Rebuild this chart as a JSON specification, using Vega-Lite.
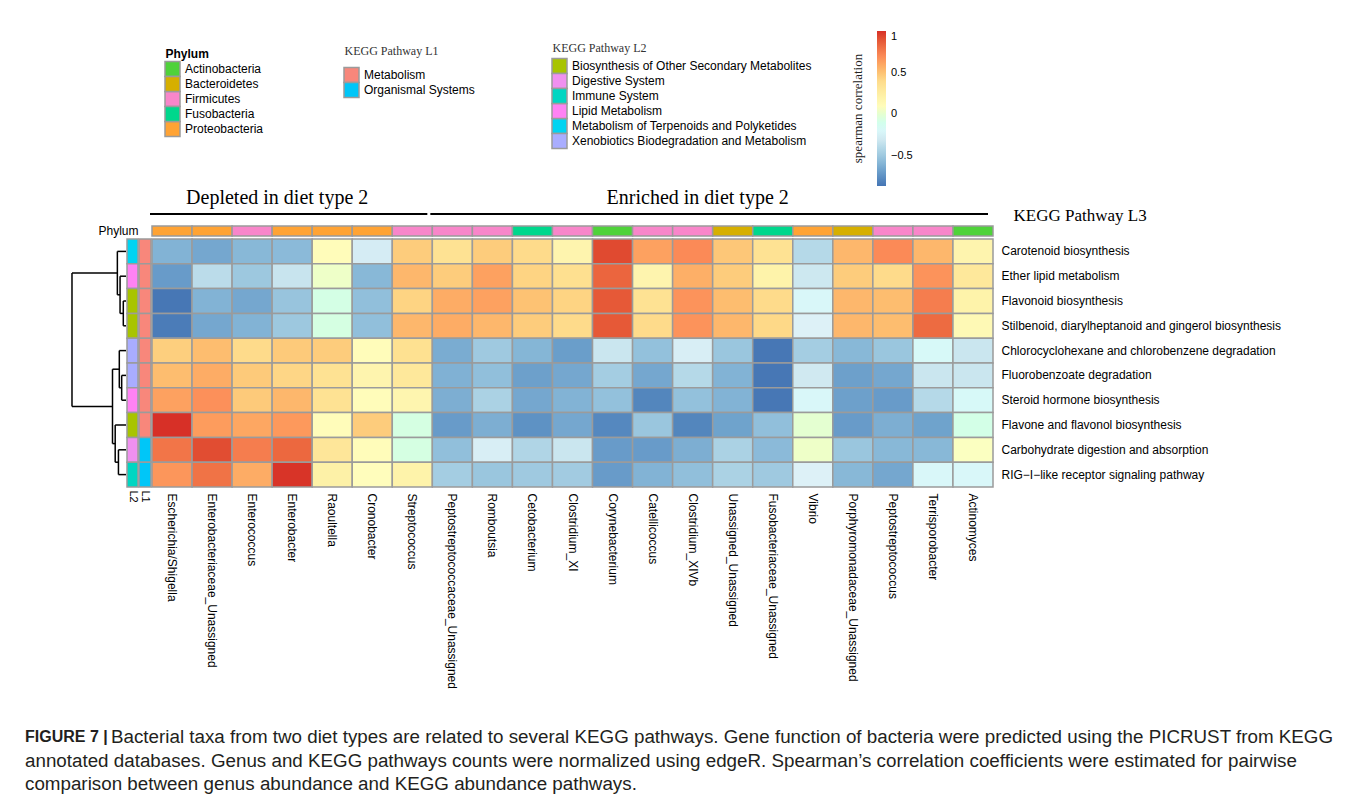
{
  "$schema": "https://vega.github.io/schema/vega-lite/v6.json",
  "background": "white",
  "padding": {"left": 25, "top": 20, "right": 10, "bottom": 5},
  "columns": 4,
  "bounds": "flush",
  "align": "each",
  "spacing": {"row": 0, "column": 1},
  "resolve": {"scale": {"color": "independent"}, "legend": {"color": "independent"}},
  "config": {
    "view": {"stroke": null},
    "font": "Liberation Sans",
    "axis": {"labelColor": "black", "labelFont": "Liberation Sans", "grid": false},
    "legend": {"labelColor": "black", "labelFont": "Liberation Sans", "labelFontSize": 12, "padding": 0, "labelLimit": 400}
  },
  "datasets": {
    "taxa": [
      {"genus": "Escherichia/Shigella", "phylum": "Proteobacteria"},
      {"genus": "Enterobacteriaceae_Unassigned", "phylum": "Proteobacteria"},
      {"genus": "Enterococcus", "phylum": "Firmicutes"},
      {"genus": "Enterobacter", "phylum": "Proteobacteria"},
      {"genus": "Raoultella", "phylum": "Proteobacteria"},
      {"genus": "Cronobacter", "phylum": "Proteobacteria"},
      {"genus": "Streptococcus", "phylum": "Firmicutes"},
      {"genus": "Peptostreptococcaceae_Unassigned", "phylum": "Firmicutes"},
      {"genus": "Romboutsia", "phylum": "Firmicutes"},
      {"genus": "Cetobacterium", "phylum": "Fusobacteria"},
      {"genus": "Clostridium_XI", "phylum": "Firmicutes"},
      {"genus": "Corynebacterium", "phylum": "Actinobacteria"},
      {"genus": "Catellicoccus", "phylum": "Firmicutes"},
      {"genus": "Clostridium_XIVb", "phylum": "Firmicutes"},
      {"genus": "Unassigned_Unassigned", "phylum": "Bacteroidetes"},
      {"genus": "Fusobacteriaceae_Unassigned", "phylum": "Fusobacteria"},
      {"genus": "Vibrio", "phylum": "Proteobacteria"},
      {"genus": "Porphyromonadaceae_Unassigned", "phylum": "Bacteroidetes"},
      {"genus": "Peptostreptococcus", "phylum": "Firmicutes"},
      {"genus": "Terrisporobacter", "phylum": "Firmicutes"},
      {"genus": "Actinomyces", "phylum": "Actinobacteria"}
    ],
    "pathways": [
      {"pathway": "Carotenoid biosynthesis", "L1": "Metabolism", "L2": "Metabolism of Terpenoids and Polyketides"},
      {"pathway": "Ether lipid metabolism", "L1": "Metabolism", "L2": "Lipid Metabolism"},
      {"pathway": "Flavonoid biosynthesis", "L1": "Metabolism", "L2": "Biosynthesis of Other Secondary Metabolites"},
      {"pathway": "Stilbenoid, diarylheptanoid and gingerol biosynthesis", "L1": "Metabolism", "L2": "Biosynthesis of Other Secondary Metabolites"},
      {"pathway": "Chlorocyclohexane and chlorobenzene degradation", "L1": "Metabolism", "L2": "Xenobiotics Biodegradation and Metabolism"},
      {"pathway": "Fluorobenzoate degradation", "L1": "Metabolism", "L2": "Xenobiotics Biodegradation and Metabolism"},
      {"pathway": "Steroid hormone biosynthesis", "L1": "Metabolism", "L2": "Lipid Metabolism"},
      {"pathway": "Flavone and flavonol biosynthesis", "L1": "Metabolism", "L2": "Biosynthesis of Other Secondary Metabolites"},
      {"pathway": "Carbohydrate digestion and absorption", "L1": "Organismal Systems", "L2": "Digestive System"},
      {"pathway": "RIG−I−like receptor signaling pathway", "L1": "Organismal Systems", "L2": "Immune System"}
    ],
    "groups": [
      {"group": "Depleted in diet type 2", "from": 0, "to": 7},
      {"group": "Enriched  in diet type 2", "from": 7, "to": 21}
    ],
    "tree": [
      {"h1": 0, "h2": 0.16, "y1": 0.5, "y2": 0.5},
      {"h1": 0, "h2": 0.11, "y1": 1.5, "y2": 1.5},
      {"h1": 0, "h2": 0.05, "y1": 2.5, "y2": 2.5},
      {"h1": 0, "h2": 0.05, "y1": 3.5, "y2": 3.5},
      {"h1": 0.05, "h2": 0.05, "y1": 2.5, "y2": 3.5},
      {"h1": 0.05, "h2": 0.11, "y1": 3.0, "y2": 3.0},
      {"h1": 0.11, "h2": 0.11, "y1": 1.5, "y2": 3.0},
      {"h1": 0.11, "h2": 0.16, "y1": 2.25, "y2": 2.25},
      {"h1": 0.16, "h2": 0.16, "y1": 0.5, "y2": 2.25},
      {"h1": 0.16, "h2": 1.0, "y1": 1.375, "y2": 1.375},
      {"h1": 0, "h2": 0.124, "y1": 4.5, "y2": 4.5},
      {"h1": 0, "h2": 0.08, "y1": 5.5, "y2": 5.5},
      {"h1": 0, "h2": 0.08, "y1": 6.5, "y2": 6.5},
      {"h1": 0.08, "h2": 0.08, "y1": 5.5, "y2": 6.5},
      {"h1": 0.08, "h2": 0.124, "y1": 6.0, "y2": 6.0},
      {"h1": 0.124, "h2": 0.124, "y1": 4.5, "y2": 6.0},
      {"h1": 0.124, "h2": 0.25, "y1": 5.25, "y2": 5.25},
      {"h1": 0, "h2": 0.2, "y1": 7.5, "y2": 7.5},
      {"h1": 0, "h2": 0.14, "y1": 8.5, "y2": 8.5},
      {"h1": 0, "h2": 0.14, "y1": 9.5, "y2": 9.5},
      {"h1": 0.14, "h2": 0.14, "y1": 8.5, "y2": 9.5},
      {"h1": 0.14, "h2": 0.2, "y1": 9.0, "y2": 9.0},
      {"h1": 0.2, "h2": 0.2, "y1": 7.5, "y2": 9.0},
      {"h1": 0.2, "h2": 0.25, "y1": 8.25, "y2": 8.25},
      {"h1": 0.25, "h2": 0.25, "y1": 5.25, "y2": 8.25},
      {"h1": 0.25, "h2": 1.0, "y1": 6.75, "y2": 6.75},
      {"h1": 1.0, "h2": 1.0, "y1": 1.375, "y2": 6.75}
    ],
    "caption": [
      {"line": 1, "prefix": "FIGURE 7 |", "text": "Bacterial taxa from two diet types are related to several KEGG pathways. Gene function of bacteria were predicted using the PICRUST from KEGG"},
      {"line": 2, "prefix": "", "text": "annotated databases. Genus and KEGG pathways counts were normalized using edgeR. Spearman’s correlation coefficients were estimated for pairwise"},
      {"line": 3, "prefix": "", "text": "comparison between genus abundance and KEGG abundance pathways."}
    ],
    "cells": [
      {"genus": "Escherichia/Shigella", "pathway": "Carotenoid biosynthesis", "rho": -0.6},
      {"genus": "Escherichia/Shigella", "pathway": "Ether lipid metabolism", "rho": -0.7},
      {"genus": "Escherichia/Shigella", "pathway": "Flavonoid biosynthesis", "rho": -0.85},
      {"genus": "Escherichia/Shigella", "pathway": "Stilbenoid, diarylheptanoid and gingerol biosynthesis", "rho": -0.83},
      {"genus": "Escherichia/Shigella", "pathway": "Chlorocyclohexane and chlorobenzene degradation", "rho": 0.45},
      {"genus": "Escherichia/Shigella", "pathway": "Fluorobenzoate degradation", "rho": 0.52},
      {"genus": "Escherichia/Shigella", "pathway": "Steroid hormone biosynthesis", "rho": 0.62},
      {"genus": "Escherichia/Shigella", "pathway": "Flavone and flavonol biosynthesis", "rho": 1.0},
      {"genus": "Escherichia/Shigella", "pathway": "Carbohydrate digestion and absorption", "rho": 0.78},
      {"genus": "Escherichia/Shigella", "pathway": "RIG−I−like receptor signaling pathway", "rho": 0.66},
      {"genus": "Enterobacteriaceae_Unassigned", "pathway": "Carotenoid biosynthesis", "rho": -0.65},
      {"genus": "Enterobacteriaceae_Unassigned", "pathway": "Ether lipid metabolism", "rho": -0.38},
      {"genus": "Enterobacteriaceae_Unassigned", "pathway": "Flavonoid biosynthesis", "rho": -0.6},
      {"genus": "Enterobacteriaceae_Unassigned", "pathway": "Stilbenoid, diarylheptanoid and gingerol biosynthesis", "rho": -0.65},
      {"genus": "Enterobacteriaceae_Unassigned", "pathway": "Chlorocyclohexane and chlorobenzene degradation", "rho": 0.52},
      {"genus": "Enterobacteriaceae_Unassigned", "pathway": "Fluorobenzoate degradation", "rho": 0.58},
      {"genus": "Enterobacteriaceae_Unassigned", "pathway": "Steroid hormone biosynthesis", "rho": 0.68},
      {"genus": "Enterobacteriaceae_Unassigned", "pathway": "Flavone and flavonol biosynthesis", "rho": 0.64},
      {"genus": "Enterobacteriaceae_Unassigned", "pathway": "Carbohydrate digestion and absorption", "rho": 0.92},
      {"genus": "Enterobacteriaceae_Unassigned", "pathway": "RIG−I−like receptor signaling pathway", "rho": 0.79},
      {"genus": "Enterococcus", "pathway": "Carotenoid biosynthesis", "rho": -0.58},
      {"genus": "Enterococcus", "pathway": "Ether lipid metabolism", "rho": -0.5},
      {"genus": "Enterococcus", "pathway": "Flavonoid biosynthesis", "rho": -0.65},
      {"genus": "Enterococcus", "pathway": "Stilbenoid, diarylheptanoid and gingerol biosynthesis", "rho": -0.6},
      {"genus": "Enterococcus", "pathway": "Chlorocyclohexane and chlorobenzene degradation", "rho": 0.4},
      {"genus": "Enterococcus", "pathway": "Fluorobenzoate degradation", "rho": 0.47},
      {"genus": "Enterococcus", "pathway": "Steroid hormone biosynthesis", "rho": 0.47},
      {"genus": "Enterococcus", "pathway": "Flavone and flavonol biosynthesis", "rho": 0.6},
      {"genus": "Enterococcus", "pathway": "Carbohydrate digestion and absorption", "rho": 0.75},
      {"genus": "Enterococcus", "pathway": "RIG−I−like receptor signaling pathway", "rho": 0.58},
      {"genus": "Enterobacter", "pathway": "Carotenoid biosynthesis", "rho": -0.57},
      {"genus": "Enterobacter", "pathway": "Ether lipid metabolism", "rho": -0.33},
      {"genus": "Enterobacter", "pathway": "Flavonoid biosynthesis", "rho": -0.52},
      {"genus": "Enterobacter", "pathway": "Stilbenoid, diarylheptanoid and gingerol biosynthesis", "rho": -0.5},
      {"genus": "Enterobacter", "pathway": "Chlorocyclohexane and chlorobenzene degradation", "rho": 0.47},
      {"genus": "Enterobacter", "pathway": "Fluorobenzoate degradation", "rho": 0.42},
      {"genus": "Enterobacter", "pathway": "Steroid hormone biosynthesis", "rho": 0.54},
      {"genus": "Enterobacter", "pathway": "Flavone and flavonol biosynthesis", "rho": 0.65},
      {"genus": "Enterobacter", "pathway": "Carbohydrate digestion and absorption", "rho": 0.83},
      {"genus": "Enterobacter", "pathway": "RIG−I−like receptor signaling pathway", "rho": 0.99},
      {"genus": "Raoultella", "pathway": "Carotenoid biosynthesis", "rho": 0.1},
      {"genus": "Raoultella", "pathway": "Ether lipid metabolism", "rho": 0.03},
      {"genus": "Raoultella", "pathway": "Flavonoid biosynthesis", "rho": -0.07},
      {"genus": "Raoultella", "pathway": "Stilbenoid, diarylheptanoid and gingerol biosynthesis", "rho": -0.06},
      {"genus": "Raoultella", "pathway": "Chlorocyclohexane and chlorobenzene degradation", "rho": 0.46},
      {"genus": "Raoultella", "pathway": "Fluorobenzoate degradation", "rho": 0.36},
      {"genus": "Raoultella", "pathway": "Steroid hormone biosynthesis", "rho": 0.36},
      {"genus": "Raoultella", "pathway": "Flavone and flavonol biosynthesis", "rho": 0.1},
      {"genus": "Raoultella", "pathway": "Carbohydrate digestion and absorption", "rho": 0.32},
      {"genus": "Raoultella", "pathway": "RIG−I−like receptor signaling pathway", "rho": 0.22},
      {"genus": "Cronobacter", "pathway": "Carotenoid biosynthesis", "rho": -0.28},
      {"genus": "Cronobacter", "pathway": "Ether lipid metabolism", "rho": -0.58},
      {"genus": "Cronobacter", "pathway": "Flavonoid biosynthesis", "rho": -0.55},
      {"genus": "Cronobacter", "pathway": "Stilbenoid, diarylheptanoid and gingerol biosynthesis", "rho": -0.55},
      {"genus": "Cronobacter", "pathway": "Chlorocyclohexane and chlorobenzene degradation", "rho": 0.1},
      {"genus": "Cronobacter", "pathway": "Fluorobenzoate degradation", "rho": 0.18},
      {"genus": "Cronobacter", "pathway": "Steroid hormone biosynthesis", "rho": 0.1},
      {"genus": "Cronobacter", "pathway": "Flavone and flavonol biosynthesis", "rho": 0.46},
      {"genus": "Cronobacter", "pathway": "Carbohydrate digestion and absorption", "rho": 0.1},
      {"genus": "Cronobacter", "pathway": "RIG−I−like receptor signaling pathway", "rho": 0.09},
      {"genus": "Streptococcus", "pathway": "Carotenoid biosynthesis", "rho": 0.46},
      {"genus": "Streptococcus", "pathway": "Ether lipid metabolism", "rho": 0.54},
      {"genus": "Streptococcus", "pathway": "Flavonoid biosynthesis", "rho": 0.43},
      {"genus": "Streptococcus", "pathway": "Stilbenoid, diarylheptanoid and gingerol biosynthesis", "rho": 0.54},
      {"genus": "Streptococcus", "pathway": "Chlorocyclohexane and chlorobenzene degradation", "rho": 0.37},
      {"genus": "Streptococcus", "pathway": "Fluorobenzoate degradation", "rho": 0.3},
      {"genus": "Streptococcus", "pathway": "Steroid hormone biosynthesis", "rho": 0.17},
      {"genus": "Streptococcus", "pathway": "Flavone and flavonol biosynthesis", "rho": -0.06},
      {"genus": "Streptococcus", "pathway": "Carbohydrate digestion and absorption", "rho": -0.06},
      {"genus": "Streptococcus", "pathway": "RIG−I−like receptor signaling pathway", "rho": 0.2},
      {"genus": "Peptostreptococcaceae_Unassigned", "pathway": "Carotenoid biosynthesis", "rho": 0.36},
      {"genus": "Peptostreptococcaceae_Unassigned", "pathway": "Ether lipid metabolism", "rho": 0.46},
      {"genus": "Peptostreptococcaceae_Unassigned", "pathway": "Flavonoid biosynthesis", "rho": 0.58},
      {"genus": "Peptostreptococcaceae_Unassigned", "pathway": "Stilbenoid, diarylheptanoid and gingerol biosynthesis", "rho": 0.58},
      {"genus": "Peptostreptococcaceae_Unassigned", "pathway": "Chlorocyclohexane and chlorobenzene degradation", "rho": -0.63},
      {"genus": "Peptostreptococcaceae_Unassigned", "pathway": "Fluorobenzoate degradation", "rho": -0.61},
      {"genus": "Peptostreptococcaceae_Unassigned", "pathway": "Steroid hormone biosynthesis", "rho": -0.62},
      {"genus": "Peptostreptococcaceae_Unassigned", "pathway": "Flavone and flavonol biosynthesis", "rho": -0.7},
      {"genus": "Peptostreptococcaceae_Unassigned", "pathway": "Carbohydrate digestion and absorption", "rho": -0.55},
      {"genus": "Peptostreptococcaceae_Unassigned", "pathway": "RIG−I−like receptor signaling pathway", "rho": -0.47},
      {"genus": "Romboutsia", "pathway": "Carotenoid biosynthesis", "rho": 0.46},
      {"genus": "Romboutsia", "pathway": "Ether lipid metabolism", "rho": 0.62},
      {"genus": "Romboutsia", "pathway": "Flavonoid biosynthesis", "rho": 0.62},
      {"genus": "Romboutsia", "pathway": "Stilbenoid, diarylheptanoid and gingerol biosynthesis", "rho": 0.54},
      {"genus": "Romboutsia", "pathway": "Chlorocyclohexane and chlorobenzene degradation", "rho": -0.49},
      {"genus": "Romboutsia", "pathway": "Fluorobenzoate degradation", "rho": -0.55},
      {"genus": "Romboutsia", "pathway": "Steroid hormone biosynthesis", "rho": -0.44},
      {"genus": "Romboutsia", "pathway": "Flavone and flavonol biosynthesis", "rho": -0.62},
      {"genus": "Romboutsia", "pathway": "Carbohydrate digestion and absorption", "rho": -0.27},
      {"genus": "Romboutsia", "pathway": "RIG−I−like receptor signaling pathway", "rho": -0.51},
      {"genus": "Cetobacterium", "pathway": "Carotenoid biosynthesis", "rho": 0.4},
      {"genus": "Cetobacterium", "pathway": "Ether lipid metabolism", "rho": 0.43},
      {"genus": "Cetobacterium", "pathway": "Flavonoid biosynthesis", "rho": 0.5},
      {"genus": "Cetobacterium", "pathway": "Stilbenoid, diarylheptanoid and gingerol biosynthesis", "rho": 0.46},
      {"genus": "Cetobacterium", "pathway": "Chlorocyclohexane and chlorobenzene degradation", "rho": -0.59},
      {"genus": "Cetobacterium", "pathway": "Fluorobenzoate degradation", "rho": -0.68},
      {"genus": "Cetobacterium", "pathway": "Steroid hormone biosynthesis", "rho": -0.65},
      {"genus": "Cetobacterium", "pathway": "Flavone and flavonol biosynthesis", "rho": -0.74},
      {"genus": "Cetobacterium", "pathway": "Carbohydrate digestion and absorption", "rho": -0.42},
      {"genus": "Cetobacterium", "pathway": "RIG−I−like receptor signaling pathway", "rho": -0.49},
      {"genus": "Clostridium_XI", "pathway": "Carotenoid biosynthesis", "rho": 0.18},
      {"genus": "Clostridium_XI", "pathway": "Ether lipid metabolism", "rho": 0.38},
      {"genus": "Clostridium_XI", "pathway": "Flavonoid biosynthesis", "rho": 0.43},
      {"genus": "Clostridium_XI", "pathway": "Stilbenoid, diarylheptanoid and gingerol biosynthesis", "rho": 0.4},
      {"genus": "Clostridium_XI", "pathway": "Chlorocyclohexane and chlorobenzene degradation", "rho": -0.69},
      {"genus": "Clostridium_XI", "pathway": "Fluorobenzoate degradation", "rho": -0.65},
      {"genus": "Clostridium_XI", "pathway": "Steroid hormone biosynthesis", "rho": -0.6},
      {"genus": "Clostridium_XI", "pathway": "Flavone and flavonol biosynthesis", "rho": -0.65},
      {"genus": "Clostridium_XI", "pathway": "Carbohydrate digestion and absorption", "rho": -0.32},
      {"genus": "Clostridium_XI", "pathway": "RIG−I−like receptor signaling pathway", "rho": -0.48},
      {"genus": "Corynebacterium", "pathway": "Carotenoid biosynthesis", "rho": 0.93},
      {"genus": "Corynebacterium", "pathway": "Ether lipid metabolism", "rho": 0.84},
      {"genus": "Corynebacterium", "pathway": "Flavonoid biosynthesis", "rho": 0.88},
      {"genus": "Corynebacterium", "pathway": "Stilbenoid, diarylheptanoid and gingerol biosynthesis", "rho": 0.88},
      {"genus": "Corynebacterium", "pathway": "Chlorocyclohexane and chlorobenzene degradation", "rho": -0.32},
      {"genus": "Corynebacterium", "pathway": "Fluorobenzoate degradation", "rho": -0.47},
      {"genus": "Corynebacterium", "pathway": "Steroid hormone biosynthesis", "rho": -0.54},
      {"genus": "Corynebacterium", "pathway": "Flavone and flavonol biosynthesis", "rho": -0.78},
      {"genus": "Corynebacterium", "pathway": "Carbohydrate digestion and absorption", "rho": -0.7},
      {"genus": "Corynebacterium", "pathway": "RIG−I−like receptor signaling pathway", "rho": -0.7},
      {"genus": "Catellicoccus", "pathway": "Carotenoid biosynthesis", "rho": 0.62},
      {"genus": "Catellicoccus", "pathway": "Ether lipid metabolism", "rho": 0.18},
      {"genus": "Catellicoccus", "pathway": "Flavonoid biosynthesis", "rho": 0.36},
      {"genus": "Catellicoccus", "pathway": "Stilbenoid, diarylheptanoid and gingerol biosynthesis", "rho": 0.4},
      {"genus": "Catellicoccus", "pathway": "Chlorocyclohexane and chlorobenzene degradation", "rho": -0.54},
      {"genus": "Catellicoccus", "pathway": "Fluorobenzoate degradation", "rho": -0.65},
      {"genus": "Catellicoccus", "pathway": "Steroid hormone biosynthesis", "rho": -0.79},
      {"genus": "Catellicoccus", "pathway": "Flavone and flavonol biosynthesis", "rho": -0.51},
      {"genus": "Catellicoccus", "pathway": "Carbohydrate digestion and absorption", "rho": -0.7},
      {"genus": "Catellicoccus", "pathway": "RIG−I−like receptor signaling pathway", "rho": -0.6},
      {"genus": "Clostridium_XIVb", "pathway": "Carotenoid biosynthesis", "rho": 0.7},
      {"genus": "Clostridium_XIVb", "pathway": "Ether lipid metabolism", "rho": 0.57},
      {"genus": "Clostridium_XIVb", "pathway": "Flavonoid biosynthesis", "rho": 0.67},
      {"genus": "Clostridium_XIVb", "pathway": "Stilbenoid, diarylheptanoid and gingerol biosynthesis", "rho": 0.67},
      {"genus": "Clostridium_XIVb", "pathway": "Chlorocyclohexane and chlorobenzene degradation", "rho": -0.27},
      {"genus": "Clostridium_XIVb", "pathway": "Fluorobenzoate degradation", "rho": -0.4},
      {"genus": "Clostridium_XIVb", "pathway": "Steroid hormone biosynthesis", "rho": -0.54},
      {"genus": "Clostridium_XIVb", "pathway": "Flavone and flavonol biosynthesis", "rho": -0.79},
      {"genus": "Clostridium_XIVb", "pathway": "Carbohydrate digestion and absorption", "rho": -0.62},
      {"genus": "Clostridium_XIVb", "pathway": "RIG−I−like receptor signaling pathway", "rho": -0.55},
      {"genus": "Unassigned_Unassigned", "pathway": "Carotenoid biosynthesis", "rho": 0.48},
      {"genus": "Unassigned_Unassigned", "pathway": "Ether lipid metabolism", "rho": 0.46},
      {"genus": "Unassigned_Unassigned", "pathway": "Flavonoid biosynthesis", "rho": 0.52},
      {"genus": "Unassigned_Unassigned", "pathway": "Stilbenoid, diarylheptanoid and gingerol biosynthesis", "rho": 0.54},
      {"genus": "Unassigned_Unassigned", "pathway": "Chlorocyclohexane and chlorobenzene degradation", "rho": -0.51},
      {"genus": "Unassigned_Unassigned", "pathway": "Fluorobenzoate degradation", "rho": -0.6},
      {"genus": "Unassigned_Unassigned", "pathway": "Steroid hormone biosynthesis", "rho": -0.6},
      {"genus": "Unassigned_Unassigned", "pathway": "Flavone and flavonol biosynthesis", "rho": -0.67},
      {"genus": "Unassigned_Unassigned", "pathway": "Carbohydrate digestion and absorption", "rho": -0.44},
      {"genus": "Unassigned_Unassigned", "pathway": "RIG−I−like receptor signaling pathway", "rho": -0.44},
      {"genus": "Fusobacteriaceae_Unassigned", "pathway": "Carotenoid biosynthesis", "rho": 0.36},
      {"genus": "Fusobacteriaceae_Unassigned", "pathway": "Ether lipid metabolism", "rho": 0.2},
      {"genus": "Fusobacteriaceae_Unassigned", "pathway": "Flavonoid biosynthesis", "rho": 0.4},
      {"genus": "Fusobacteriaceae_Unassigned", "pathway": "Stilbenoid, diarylheptanoid and gingerol biosynthesis", "rho": 0.41},
      {"genus": "Fusobacteriaceae_Unassigned", "pathway": "Chlorocyclohexane and chlorobenzene degradation", "rho": -0.85},
      {"genus": "Fusobacteriaceae_Unassigned", "pathway": "Fluorobenzoate degradation", "rho": -0.85},
      {"genus": "Fusobacteriaceae_Unassigned", "pathway": "Steroid hormone biosynthesis", "rho": -0.85},
      {"genus": "Fusobacteriaceae_Unassigned", "pathway": "Flavone and flavonol biosynthesis", "rho": -0.55},
      {"genus": "Fusobacteriaceae_Unassigned", "pathway": "Carbohydrate digestion and absorption", "rho": -0.57},
      {"genus": "Fusobacteriaceae_Unassigned", "pathway": "RIG−I−like receptor signaling pathway", "rho": -0.49},
      {"genus": "Vibrio", "pathway": "Carotenoid biosynthesis", "rho": -0.4},
      {"genus": "Vibrio", "pathway": "Ether lipid metabolism", "rho": -0.31},
      {"genus": "Vibrio", "pathway": "Flavonoid biosynthesis", "rho": -0.2},
      {"genus": "Vibrio", "pathway": "Stilbenoid, diarylheptanoid and gingerol biosynthesis", "rho": -0.25},
      {"genus": "Vibrio", "pathway": "Chlorocyclohexane and chlorobenzene degradation", "rho": -0.47},
      {"genus": "Vibrio", "pathway": "Fluorobenzoate degradation", "rho": -0.3},
      {"genus": "Vibrio", "pathway": "Steroid hormone biosynthesis", "rho": -0.2},
      {"genus": "Vibrio", "pathway": "Flavone and flavonol biosynthesis", "rho": 0.0},
      {"genus": "Vibrio", "pathway": "Carbohydrate digestion and absorption", "rho": 0.03},
      {"genus": "Vibrio", "pathway": "RIG−I−like receptor signaling pathway", "rho": -0.25},
      {"genus": "Porphyromonadaceae_Unassigned", "pathway": "Carotenoid biosynthesis", "rho": 0.54},
      {"genus": "Porphyromonadaceae_Unassigned", "pathway": "Ether lipid metabolism", "rho": 0.46},
      {"genus": "Porphyromonadaceae_Unassigned", "pathway": "Flavonoid biosynthesis", "rho": 0.54},
      {"genus": "Porphyromonadaceae_Unassigned", "pathway": "Stilbenoid, diarylheptanoid and gingerol biosynthesis", "rho": 0.54},
      {"genus": "Porphyromonadaceae_Unassigned", "pathway": "Chlorocyclohexane and chlorobenzene degradation", "rho": -0.58},
      {"genus": "Porphyromonadaceae_Unassigned", "pathway": "Fluorobenzoate degradation", "rho": -0.68},
      {"genus": "Porphyromonadaceae_Unassigned", "pathway": "Steroid hormone biosynthesis", "rho": -0.68},
      {"genus": "Porphyromonadaceae_Unassigned", "pathway": "Flavone and flavonol biosynthesis", "rho": -0.7},
      {"genus": "Porphyromonadaceae_Unassigned", "pathway": "Carbohydrate digestion and absorption", "rho": -0.51},
      {"genus": "Porphyromonadaceae_Unassigned", "pathway": "RIG−I−like receptor signaling pathway", "rho": -0.58},
      {"genus": "Peptostreptococcus", "pathway": "Carotenoid biosynthesis", "rho": 0.7},
      {"genus": "Peptostreptococcus", "pathway": "Ether lipid metabolism", "rho": 0.4},
      {"genus": "Peptostreptococcus", "pathway": "Flavonoid biosynthesis", "rho": 0.52},
      {"genus": "Peptostreptococcus", "pathway": "Stilbenoid, diarylheptanoid and gingerol biosynthesis", "rho": 0.52},
      {"genus": "Peptostreptococcus", "pathway": "Chlorocyclohexane and chlorobenzene degradation", "rho": -0.51},
      {"genus": "Peptostreptococcus", "pathway": "Fluorobenzoate degradation", "rho": -0.65},
      {"genus": "Peptostreptococcus", "pathway": "Steroid hormone biosynthesis", "rho": -0.7},
      {"genus": "Peptostreptococcus", "pathway": "Flavone and flavonol biosynthesis", "rho": -0.62},
      {"genus": "Peptostreptococcus", "pathway": "Carbohydrate digestion and absorption", "rho": -0.58},
      {"genus": "Peptostreptococcus", "pathway": "RIG−I−like receptor signaling pathway", "rho": -0.65},
      {"genus": "Terrisporobacter", "pathway": "Carotenoid biosynthesis", "rho": 0.54},
      {"genus": "Terrisporobacter", "pathway": "Ether lipid metabolism", "rho": 0.67},
      {"genus": "Terrisporobacter", "pathway": "Flavonoid biosynthesis", "rho": 0.75},
      {"genus": "Terrisporobacter", "pathway": "Stilbenoid, diarylheptanoid and gingerol biosynthesis", "rho": 0.82},
      {"genus": "Terrisporobacter", "pathway": "Chlorocyclohexane and chlorobenzene degradation", "rho": -0.18},
      {"genus": "Terrisporobacter", "pathway": "Fluorobenzoate degradation", "rho": -0.32},
      {"genus": "Terrisporobacter", "pathway": "Steroid hormone biosynthesis", "rho": -0.4},
      {"genus": "Terrisporobacter", "pathway": "Flavone and flavonol biosynthesis", "rho": -0.67},
      {"genus": "Terrisporobacter", "pathway": "Carbohydrate digestion and absorption", "rho": -0.58},
      {"genus": "Terrisporobacter", "pathway": "RIG−I−like receptor signaling pathway", "rho": -0.2},
      {"genus": "Actinomyces", "pathway": "Carotenoid biosynthesis", "rho": 0.18},
      {"genus": "Actinomyces", "pathway": "Ether lipid metabolism", "rho": 0.3},
      {"genus": "Actinomyces", "pathway": "Flavonoid biosynthesis", "rho": 0.2},
      {"genus": "Actinomyces", "pathway": "Stilbenoid, diarylheptanoid and gingerol biosynthesis", "rho": 0.13},
      {"genus": "Actinomyces", "pathway": "Chlorocyclohexane and chlorobenzene degradation", "rho": -0.32},
      {"genus": "Actinomyces", "pathway": "Fluorobenzoate degradation", "rho": -0.32},
      {"genus": "Actinomyces", "pathway": "Steroid hormone biosynthesis", "rho": -0.18},
      {"genus": "Actinomyces", "pathway": "Flavone and flavonol biosynthesis", "rho": -0.08},
      {"genus": "Actinomyces", "pathway": "Carbohydrate digestion and absorption", "rho": 0.06},
      {"genus": "Actinomyces", "pathway": "RIG−I−like receptor signaling pathway", "rho": -0.2}
    ]
  },
  "concat": [
    {
      "width": 101,
      "height": 168,
      "data": {"values": [{"v": 0}]},
      "mark": {"type": "point", "opacity": 0},
      "encoding": {
        "y": {
          "field": "v",
          "type": "quantitative",
          "axis": {
            "title": "spearman correlation",
            "labels": false, "ticks": false, "domain": false,
            "titleX": 832, "titleY": 88, "titleAngle": 270,
            "titleAlign": "center", "titleBaseline": "middle",
            "titleFont": "Liberation Serif", "titleFontSize": 13,
            "titleFontWeight": "normal", "titleColor": "#222222"
          }
        }
      }
    },
    {"width": 1, "height": 1, "data": {"values": []}, "mark": "rect"},
    {"width": 1, "height": 1, "data": {"values": []}, "mark": "rect"},
    {
      "bounds": "flush",
      "spacing": 0,
      "resolve": {"scale": {"color": "independent", "x": "independent", "y": "independent"}},
      "hconcat": [
        {"width": 13, "height": 1, "data": {"values": []}, "mark": "rect"},
        {
          "width": 15,
          "height": 75,
          "data": {"name": "taxa"},
          "transform": [{"aggregate": [], "groupby": ["phylum"]}],
          "encoding": {
            "y": {"field": "phylum", "type": "nominal", "scale": {"domain": ["Actinobacteria", "Bacteroidetes", "Firmicutes", "Fusobacteria", "Proteobacteria"], "paddingInner": 0, "paddingOuter": 0}, "axis": null}
          },
          "layer": [
            {
              "mark": {"type": "rect", "stroke": "#9b9b9b", "strokeWidth": 1.5, "yOffset": 41.5, "y2Offset": 41.5},
              "encoding": {
                "color": {
                  "field": "phylum", "type": "nominal",
                  "scale": {"domain": ["Actinobacteria", "Bacteroidetes", "Firmicutes", "Fusobacteria", "Proteobacteria"], "range": ["#4fd23a", "#d6af00", "#f886ca", "#00d78c", "#ffa334"]},
                  "legend": null
                }
              }
            },
            {
              "mark": {"type": "text", "align": "left", "baseline": "middle", "dx": 5, "yOffset": 41.5, "fontSize": 12, "color": "black"},
              "encoding": {
                "x": {"datum": 1, "type": "quantitative", "scale": {"domain": [0, 1]},
                  "axis": {"orient": "top", "labels": false, "ticks": false, "domain": false, "title": "Phylum", "titleX": 0, "titleY": 33, "titleAlign": "left", "titleBaseline": "middle", "titleFont": "Liberation Sans", "titleFontSize": 12, "titleFontWeight": "bold", "titleColor": "black"}},
                "text": {"field": "phylum"}
              }
            }
          ]
        },
        {"width": 164, "height": 1, "data": {"values": []}, "mark": "rect"},
        {
          "width": 15,
          "height": 30,
          "data": {"name": "pathways"},
          "transform": [{"aggregate": [], "groupby": ["L1"]}],
          "encoding": {
            "y": {"field": "L1", "type": "nominal", "scale": {"domain": ["Metabolism", "Organismal Systems"], "paddingInner": 0, "paddingOuter": 0}, "axis": null}
          },
          "layer": [
            {
              "mark": {"type": "rect", "stroke": "#9b9b9b", "strokeWidth": 1.5, "yOffset": 47.5, "y2Offset": 47.5},
              "encoding": {
                "color": {
                  "field": "L1", "type": "nominal",
                  "scale": {"domain": ["Metabolism", "Organismal Systems"], "range": ["#f8877b", "#00c6f8"]},
                  "legend": null
                }
              }
            },
            {
              "mark": {"type": "text", "align": "left", "baseline": "middle", "dx": 5, "yOffset": 47.5, "fontSize": 12, "color": "black"},
              "encoding": {
                "x": {"datum": 1, "type": "quantitative", "scale": {"domain": [0, 1]},
                  "axis": {"orient": "top", "labels": false, "ticks": false, "domain": false, "title": "KEGG Pathway L1", "titleX": 0, "titleY": 30, "titleAlign": "left", "titleBaseline": "middle", "titleFont": "Liberation Serif", "titleFontSize": 12, "titleFontWeight": "normal", "titleColor": "#333333"}},
                "text": {"field": "L1"}
              }
            }
          ]
        },
        {"width": 193, "height": 1, "data": {"values": []}, "mark": "rect"},
        {
          "width": 15,
          "height": 90,
          "data": {"name": "pathways"},
          "transform": [{"aggregate": [], "groupby": ["L2"]}],
          "encoding": {
            "y": {"field": "L2", "type": "nominal", "scale": {"domain": ["Biosynthesis of Other Secondary Metabolites", "Digestive System", "Immune System", "Lipid Metabolism", "Metabolism of Terpenoids and Polyketides", "Xenobiotics Biodegradation and Metabolism"], "paddingInner": 0, "paddingOuter": 0}, "axis": null}
          },
          "layer": [
            {
              "mark": {"type": "rect", "stroke": "#9b9b9b", "strokeWidth": 1.5, "yOffset": 38.5, "y2Offset": 38.5},
              "encoding": {
                "color": {
                  "field": "L2", "type": "nominal",
                  "scale": {"domain": ["Biosynthesis of Other Secondary Metabolites", "Digestive System", "Immune System", "Lipid Metabolism", "Metabolism of Terpenoids and Polyketides", "Xenobiotics Biodegradation and Metabolism"], "range": ["#a8c400", "#f090f0", "#00d6c2", "#ff82f4", "#00d4f2", "#a9adff"]},
                  "legend": null
                }
              }
            },
            {
              "mark": {"type": "text", "align": "left", "baseline": "middle", "dx": 5, "yOffset": 38.5, "fontSize": 12, "color": "black"},
              "encoding": {
                "x": {"datum": 1, "type": "quantitative", "scale": {"domain": [0, 1]},
                  "axis": {"orient": "top", "labels": false, "ticks": false, "domain": false, "title": "KEGG Pathway L2", "titleX": 0, "titleY": 27, "titleAlign": "left", "titleBaseline": "middle", "titleFont": "Liberation Serif", "titleFontSize": 12, "titleFontWeight": "normal", "titleColor": "#333333"}},
                "text": {"field": "L2"}
              }
            }
          ]
        }
      ]
    },

    {"width": 1, "height": 1, "data": {"values": []}, "mark": "rect"},
    {"width": 1, "height": 1, "data": {"values": []}, "mark": "rect"},
    {"width": 1, "height": 1, "data": {"values": []}, "mark": "rect"},
    {
      "width": 841,
      "height": 26,
      "data": {"name": "groups"},
      "transform": [{"calculate": "(datum.from + datum.to) / 2", "as": "mid"}],
      "layer": [
        {
          "mark": {"type": "rule", "color": "black", "strokeWidth": 2, "xOffset": -2, "x2Offset": -5},
          "encoding": {
            "x": {"field": "from", "type": "quantitative", "scale": {"domain": [0, 21], "nice": false, "zero": false}, "axis": null},
            "x2": {"field": "to"},
            "y": {"datum": 0, "type": "quantitative", "scale": {"domain": [0, 1]}, "axis": null}
          }
        },
        {
          "mark": {"type": "text", "font": "Liberation Serif", "fontSize": 20, "baseline": "top", "color": "black", "dx": -15},
          "encoding": {
            "x": {"field": "mid", "type": "quantitative"},
            "y": {"datum": 1, "type": "quantitative"},
            "text": {"field": "group"}
          }
        }
      ]
    },

    {"width": 1, "height": 12, "data": {"values": []}, "mark": "rect"},
    {"width": 1, "height": 1, "data": {"values": []}, "mark": "rect"},
    {"width": 1, "height": 1, "data": {"values": []}, "mark": "rect"},
    {"width": 1, "height": 1, "data": {"values": []}, "mark": "rect"},

    {"width": 1, "height": 1, "data": {"values": []}, "mark": "rect"},
    {"width": 1, "height": 1, "data": {"values": []}, "mark": "rect"},
    {"width": 1, "height": 1, "data": {"values": []}, "mark": "rect"},
    {
      "width": 841,
      "height": 10,
      "data": {"name": "taxa"},
      "mark": {"type": "rect", "stroke": "#9b9b9b", "strokeWidth": 1.5},
      "encoding": {
        "x": {
          "field": "genus", "type": "nominal",
          "scale": {"domain": ["Escherichia/Shigella", "Enterobacteriaceae_Unassigned", "Enterococcus", "Enterobacter", "Raoultella", "Cronobacter", "Streptococcus", "Peptostreptococcaceae_Unassigned", "Romboutsia", "Cetobacterium", "Clostridium_XI", "Corynebacterium", "Catellicoccus", "Clostridium_XIVb", "Unassigned_Unassigned", "Fusobacteriaceae_Unassigned", "Vibrio", "Porphyromonadaceae_Unassigned", "Peptostreptococcus", "Terrisporobacter", "Actinomyces"]},
          "axis": null
        },
        "y": {
          "datum": "Phylum", "type": "nominal",
          "axis": {"orient": "left", "title": null, "ticks": false, "domain": false, "labelPadding": 14, "labelFontSize": 12}
        },
        "color": {
          "field": "phylum", "type": "nominal",
          "scale": {
            "domain": ["Actinobacteria", "Bacteroidetes", "Firmicutes", "Fusobacteria", "Proteobacteria"],
            "range": ["#4fd23a", "#d6af00", "#f886ca", "#00d78c", "#ffa334"]
          },
          "legend": null
        }
      }
    },

    {"width": 1, "height": 3, "data": {"values": []}, "mark": "rect"},
    {"width": 1, "height": 1, "data": {"values": []}, "mark": "rect"},
    {"width": 1, "height": 1, "data": {"values": []}, "mark": "rect"},
    {"width": 1, "height": 1, "data": {"values": []}, "mark": "rect"},

    {
      "width": 101,
      "height": 248,
      "data": {"name": "tree"},
      "mark": {"type": "rule", "color": "black", "strokeWidth": 1.5},
      "encoding": {
        "x": {"field": "h1", "type": "quantitative", "scale": {"domain": [0, 1.87], "reverse": true, "nice": false, "zero": false}, "axis": null},
        "x2": {"field": "h2"},
        "y": {"field": "y1", "type": "quantitative", "scale": {"domain": [0, 10], "reverse": true, "nice": false, "zero": false}, "axis": null},
        "y2": {"field": "y2"}
      }
    },
    {
      "width": 11,
      "height": 248,
      "data": {"name": "pathways"},
      "mark": {"type": "rect", "stroke": "#9b9b9b", "strokeWidth": 1.5},
      "encoding": {
        "x": {"datum": "L2", "type": "nominal", "axis": {"orient": "bottom", "title": null, "ticks": false, "domain": false, "labelAngle": 90, "labelAlign": "left", "labelBaseline": "middle", "labelPadding": 3, "labelFontSize": 11}},
        "y": {"field": "pathway", "type": "nominal", "sort": null, "axis": null},
        "color": {
          "field": "L2", "type": "nominal",
          "scale": {
            "domain": ["Biosynthesis of Other Secondary Metabolites", "Digestive System", "Immune System", "Lipid Metabolism", "Metabolism of Terpenoids and Polyketides", "Xenobiotics Biodegradation and Metabolism"],
            "range": ["#a8c400", "#f090f0", "#00d6c2", "#ff82f4", "#00d4f2", "#a9adff"]
          },
          "legend": null
        }
      }
    },
    {
      "width": 12,
      "height": 248,
      "data": {"name": "pathways"},
      "mark": {"type": "rect", "stroke": "#9b9b9b", "strokeWidth": 1.5},
      "encoding": {
        "x": {"datum": "L1", "type": "nominal", "axis": {"orient": "bottom", "title": null, "ticks": false, "domain": false, "labelAngle": 90, "labelAlign": "left", "labelBaseline": "middle", "labelPadding": 3, "labelFontSize": 11}},
        "y": {"field": "pathway", "type": "nominal", "sort": null, "axis": null},
        "color": {
          "field": "L1", "type": "nominal",
          "scale": {"domain": ["Metabolism", "Organismal Systems"], "range": ["#f8877b", "#00c6f8"]},
          "legend": null
        }
      }
    },
    {
      "width": 841,
      "height": 248,
      "data": {"name": "cells"},
      "mark": {"type": "rect", "stroke": "#9b9b9b", "strokeWidth": 1.5},
      "encoding": {
        "x": {
          "field": "genus", "type": "nominal",
          "scale": {"domain": ["Escherichia/Shigella", "Enterobacteriaceae_Unassigned", "Enterococcus", "Enterobacter", "Raoultella", "Cronobacter", "Streptococcus", "Peptostreptococcaceae_Unassigned", "Romboutsia", "Cetobacterium", "Clostridium_XI", "Corynebacterium", "Catellicoccus", "Clostridium_XIVb", "Unassigned_Unassigned", "Fusobacteriaceae_Unassigned", "Vibrio", "Porphyromonadaceae_Unassigned", "Peptostreptococcus", "Terrisporobacter", "Actinomyces"]},
          "axis": {"orient": "bottom", "title": null, "ticks": false, "domain": false, "labelAngle": 90, "labelAlign": "left", "labelBaseline": "middle", "labelPadding": 6, "labelFontSize": 12, "labelLimit": 400}
        },
        "y": {
          "field": "pathway", "type": "nominal",
          "scale": {"domain": ["Carotenoid biosynthesis", "Ether lipid metabolism", "Flavonoid biosynthesis", "Stilbenoid, diarylheptanoid and gingerol biosynthesis", "Chlorocyclohexane and chlorobenzene degradation", "Fluorobenzoate degradation", "Steroid hormone biosynthesis", "Flavone and flavonol biosynthesis", "Carbohydrate digestion and absorption", "RIG−I−like receptor signaling pathway"]},
          "axis": {
            "orient": "right", "ticks": false, "domain": false, "labelPadding": 8, "labelFontSize": 12, "labelLimit": 400,
            "title": "KEGG Pathway L3", "titleAngle": 0, "titleAlign": "left", "titleBaseline": "middle", "titleX": 20, "titleY": -24,
            "titleFont": "Liberation Serif", "titleFontSize": 17, "titleFontWeight": "normal", "titleColor": "black"
          }
        },
        "color": {
          "field": "rho", "type": "quantitative",
          "scale": {
            "domain": [-0.86, -0.55, -0.24, 0.07, 0.38, 0.69, 1.0],
            "range": ["#4575b4", "#91bfdb", "#e0f3f8", "#ffffbf", "#fee090", "#fc8d59", "#d73027"]
          },
          "legend": {
            "orient": "none", "legendX": 725, "legendY": -208, "title": null,
            "direction": "vertical", "gradientLength": 155, "gradientThickness": 9, "gradientStrokeWidth": 0,
            "values": [-0.5, 0, 0.5, 1], "format": ".1~f", "labelFontSize": 11, "labelOffset": 5
          }
        }
      }
    },

    {"width": 1, "height": 238, "data": {"values": []}, "mark": "rect"},
    {"width": 1, "height": 1, "data": {"values": []}, "mark": "rect"},
    {"width": 1, "height": 1, "data": {"values": []}, "mark": "rect"},
    {"width": 1, "height": 1, "data": {"values": []}, "mark": "rect"},

    {
      "width": 101,
      "height": 71,
      "data": {"name": "caption"},
      "encoding": {
        "x": {"datum": 0, "type": "quantitative", "scale": {"domain": [0, 1]}, "axis": null},
        "y": {"field": "line", "type": "ordinal", "scale": {"domain": [1, 2, 3]}, "axis": null}
      },
      "layer": [
        {
          "transform": [{"filter": "datum.line == 1"}],
          "mark": {"type": "text", "align": "left", "baseline": "middle", "fontSize": 16, "fontWeight": "bold", "color": "#231f20"},
          "encoding": {"text": {"field": "prefix"}}
        },
        {
          "transform": [{"filter": "datum.line == 1"}],
          "mark": {"type": "text", "align": "left", "baseline": "middle", "fontSize": 18.8, "dx": 86, "color": "#231f20"},
          "encoding": {"text": {"field": "text"}}
        },
        {
          "transform": [{"filter": "datum.line > 1"}],
          "mark": {"type": "text", "align": "left", "baseline": "middle", "fontSize": 18.8, "color": "#231f20"},
          "encoding": {"text": {"field": "text"}}
        }
      ]
    }
  ]
}
